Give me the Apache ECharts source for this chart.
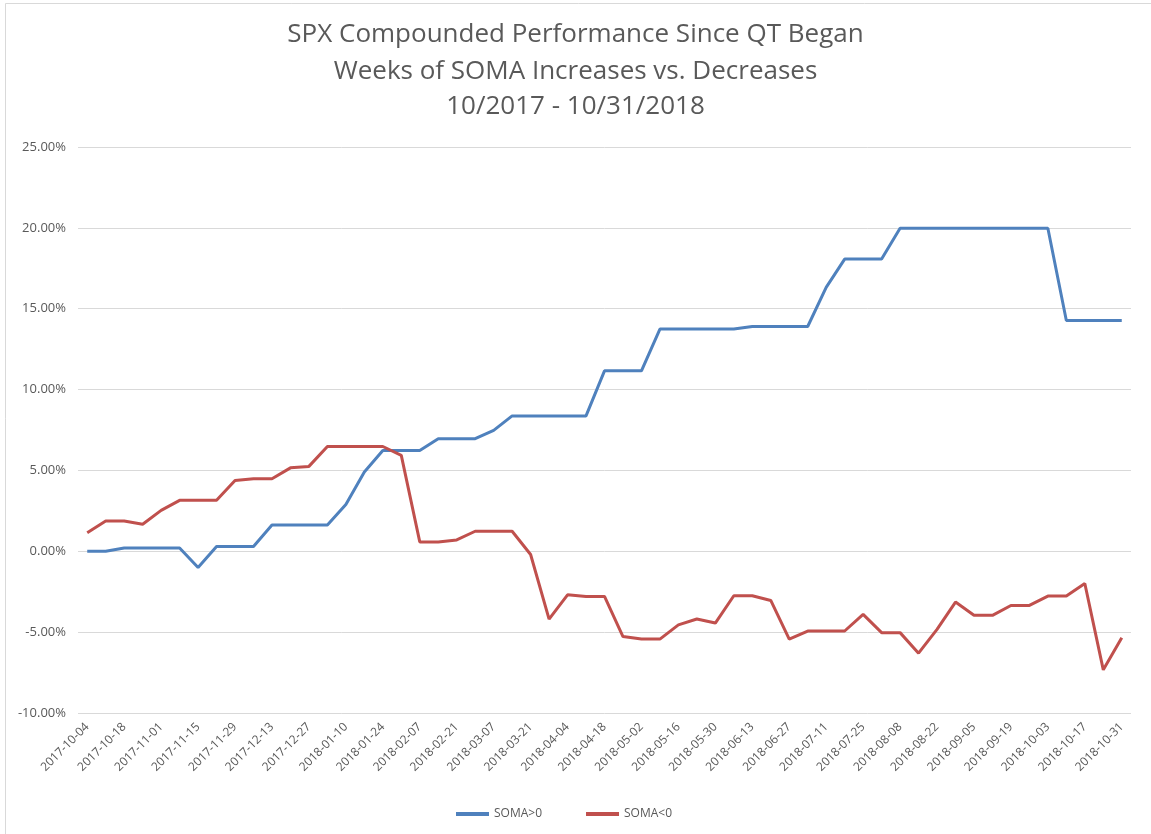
<!DOCTYPE html>
<html>
<head>
<meta charset="utf-8">
<script src="https://cdn.jsdelivr.net/npm/echarts@6/dist/echarts.min.js"></script>
<style>
html,body{margin:0;padding:0;background:#fff;}
#chart{width:1151px;height:834px;}
</style>
</head>
<body>
<div id="chart"></div>
<script>
var titleLines = ['SPX Compounded Performance Since QT Began', 'Weeks of SOMA Increases vs. Decreases', '10/2017 - 10/31/2018'];

var weeks = [
  '2017-10-04','2017-10-11','2017-10-18','2017-10-25','2017-11-01','2017-11-08','2017-11-15','2017-11-22','2017-11-29',
  '2017-12-06','2017-12-13','2017-12-20','2017-12-27','2018-01-03','2018-01-10','2018-01-17','2018-01-24','2018-01-31',
  '2018-02-07','2018-02-14','2018-02-21','2018-02-28','2018-03-07','2018-03-14','2018-03-21','2018-03-28','2018-04-04',
  '2018-04-11','2018-04-18','2018-04-25','2018-05-02','2018-05-09','2018-05-16','2018-05-23','2018-05-30','2018-06-06',
  '2018-06-13','2018-06-20','2018-06-27','2018-07-04','2018-07-11','2018-07-18','2018-07-25','2018-08-01','2018-08-08',
  '2018-08-15','2018-08-22','2018-08-29','2018-09-05','2018-09-12','2018-09-19','2018-09-26','2018-10-03','2018-10-10',
  '2018-10-17','2018-10-24','2018-10-31'
];

// percent values
var somaUp = [
  0.00, 0.00, 0.20, 0.20, 0.20, 0.20, -1.00, 0.30, 0.30, 0.30,
  1.63, 1.63, 1.63, 1.63, 2.90, 4.90, 6.23, 6.23, 6.23, 6.96,
  6.96, 6.96, 7.48, 8.37, 8.37, 8.37, 8.37, 8.37, 11.16, 11.16,
  11.16, 13.74, 13.74, 13.74, 13.74, 13.74, 13.90, 13.90, 13.90, 13.90,
  16.32, 18.07, 18.07, 18.07, 19.98, 19.98, 19.98, 19.98, 19.98, 19.98,
  19.98, 19.98, 19.98, 14.27, 14.27, 14.27, 14.27
];

var somaDown = [
  1.15, 1.87, 1.87, 1.67, 2.53, 3.15, 3.15, 3.15, 4.38, 4.49,
  4.49, 5.16, 5.25, 6.48, 6.48, 6.48, 6.48, 5.93, 0.58, 0.58,
  0.70, 1.24, 1.24, 1.24, -0.20, -4.19, -2.69, -2.79, -2.79, -5.27,
  -5.43, -5.43, -4.55, -4.19, -4.44, -2.75, -2.75, -3.04, -5.43, -4.93,
  -4.93, -4.93, -3.90, -5.03, -5.03, -6.30, -4.83, -3.14, -3.96, -3.96,
  -3.35, -3.35, -2.77, -2.77, -1.99, -7.33, -5.34
];

var seriesNames = ['SOMA>0', 'SOMA<0'];

var FONT = '"Open Sans", "Liberation Sans", sans-serif';
var titleTops = [22, 59, 94];
var titles = titleLines.map(function (t, i) {
  return {
    text: t,
    left: 'center',
    top: titleTops[i],
    padding: 0,
    textStyle: {fontFamily: FONT, fontSize: 26, fontWeight: 'normal', color: '#595959'}
  };
});

var chart = echarts.init(document.getElementById('chart'), null, {renderer: 'canvas'});
chart.setOption({
  backgroundColor: '#ffffff',
  animation: false,
  graphic: [
    {type: 'line', shape: {x1: 5.5, y1: 3.5, x2: 5.5, y2: 834}, style: {stroke: '#d9d9d9', lineWidth: 1}},
    {type: 'line', shape: {x1: 5.5, y1: 3.5, x2: 1151, y2: 3.5}, style: {stroke: '#d9d9d9', lineWidth: 1}}
  ],
  title: titles,
  legend: {
    data: seriesNames,
    top: 803,
    left: 451,
    itemWidth: 33,
    itemHeight: 4,
    itemGap: 44,
    icon: 'rect',
    textStyle: {fontFamily: FONT, fontSize: 12, color: '#595959'}
  },
  grid: {left: 78, right: 20, top: 147, bottom: 121, containLabel: false},
  xAxis: {
    type: 'category',
    data: weeks,
    boundaryGap: true,
    axisLine: {show: false},
    axisTick: {show: false},
    axisLabel: {
      interval: 1,
      rotate: 45,
      margin: 12,
      fontFamily: FONT,
      fontSize: 12,
      color: '#595959'
    }
  },
  yAxis: {
    type: 'value',
    min: -10,
    max: 25,
    interval: 5,
    axisLine: {show: false},
    axisTick: {show: false},
    splitLine: {lineStyle: {color: '#d9d9d9', width: 1}},
    axisLabel: {
      margin: 12,
      fontFamily: FONT,
      fontSize: 13,
      color: '#595959',
      formatter: function (v) { return v.toFixed(2) + '%'; }
    }
  },
  series: [
    {
      name: seriesNames[0],
      type: 'line',
      data: somaUp,
      symbol: 'none',
      lineStyle: {width: 3, color: '#4F81BD'},
      itemStyle: {color: '#4F81BD'}
    },
    {
      name: seriesNames[1],
      type: 'line',
      data: somaDown,
      symbol: 'none',
      lineStyle: {width: 3, color: '#C0504D'},
      itemStyle: {color: '#C0504D'}
    }
  ]
});
</script>
</body>
</html>
